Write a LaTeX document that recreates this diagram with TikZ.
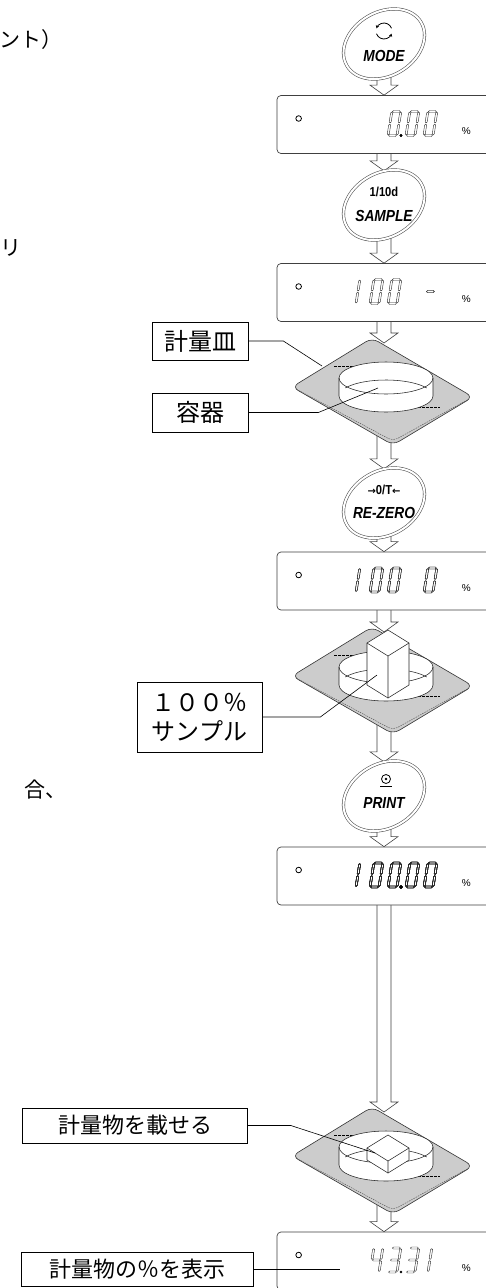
\documentclass[tikz,border=0pt]{standalone}
\usepackage{fontspec}
\setmainfont{Liberation Sans}
\newfontfamily\jpfont{Noto Sans CJK JP}
\newfontfamily\keyfont[FakeStretch=0.86]{Liberation Sans}
\newfontfamily\arrowfont{DejaVu Sans}
\usetikzlibrary{calc,arrows.meta}
\definecolor{plategray}{gray}{0.8}
\definecolor{linegray}{gray}{0.25}
\pgfdeclarelayer{back}
\pgfsetlayers{back,main}

\newcommand\hseg[3]{\draw[seg] (#1,#3) -- (#1+1,#3-1) -- (#2-1,#3-1) -- (#2,#3) -- (#2-1,#3+1) -- (#1+1,#3+1) -- cycle;}
\newcommand\vseg[3]{\draw[seg] (#1,#2) -- (#1+1,#2+1) -- (#1+1,#3-1) -- (#1,#3) -- (#1-1,#3-1) -- (#1-1,#2+1) -- cycle;}
\newcommand\dsega{\hseg{0.6}{8.4}{-24}}
\newcommand\dsegb{\vseg{9}{-23.4}{-12.6}}
\newcommand\dsegc{\vseg{9}{-11.4}{-0.6}}
\newcommand\dsegd{\hseg{0.6}{8.4}{0}}
\newcommand\dsege{\vseg{0}{-11.4}{-0.6}}
\newcommand\dsegf{\vseg{0}{-23.4}{-12.6}}
\newcommand\dsegg{\hseg{0.6}{8.4}{-12}}
\newcommand\dsegh{\vseg{4}{-23.4}{-12.6}}
\newcommand\dsegi{\vseg{4}{-11.4}{-0.6}}
\newcommand\lcddigit[3]{\begin{scope}[shift={(#1,#2)},xslant=0.16]\foreach \s in {#3}{\csname dseg\s\endcsname}\end{scope}}
\newcommand\flowarrow[2]{\path[flow] ($(#1.center)+(-7,0)$) -- ($(#1.center |- #2)+(-7,-10)$) -- ($(#1.center |- #2)+(-14,-10)$) -- (#1.center |- #2) -- ($(#1.center |- #2)+(14,-10)$) -- ($(#1.center |- #2)+(7,-10)$) -- ($(#1.center)+(7,0)$);}
\newcommand\weighpan[2]{\begin{scope}[shift={(#1,#2)}]
\filldraw[plate] (0,0) -- (101,59) -- (21,107) -- (-80,49) -- cycle;
\draw[platerim] (-76,51) -- (21,103) -- (97,61);
\draw[hidden] (-38,28) -- (14,28) (34,69) -- (68,69);
\filldraw[dish] (-33,40) -- (-33,58) arc[start angle=180, end angle=0, x radius=47, y radius=16] -- (61,40) arc[start angle=0, end angle=-180, x radius=47, y radius=16] -- cycle;
\draw[dishline] (-33,40) arc[start angle=180, end angle=0, x radius=47, y radius=16];
\draw[dishline] (-26.7,50) arc[start angle=210, end angle=330, x radius=47, y radius=16];
\end{scope}}
\newcommand\cuboid[3]{\begin{scope}[shift={(#1,#2)}]
\filldraw[dish] (0,0) -- (21,13) -- (21,13+#3) -- (0,26+#3) -- (-21,13+#3) -- (-21,13) -- cycle;
\draw[dishline] (-21,13) -- (0,26) -- (21,13) (0,26) -- (0,26+#3);
\end{scope}}

\begin{document}
\begin{tikzpicture}[x=1pt, y=-1pt,
 lcd/.style={draw=linegray, line width=0.7pt, fill=white, rounded corners=4pt, minimum width=214pt, minimum height=58pt, inner sep=0},
 btn/.style={minimum width=80pt, minimum height=68pt, inner sep=0},
 ring/.style={fill=white, draw=black!70, line width=0.55pt, double=white, double distance=2pt},
 keylab/.style={inner sep=0, font=\keyfont\bfseries\itshape\fontsize{16}{16}\selectfont},
 keytop/.style={inner sep=0, font=\keyfont\bfseries\fontsize{13}{13}\selectfont},
 sym/.style={line width=0.8pt},
 seg/.style={draw=black!85, line width=0.4pt, line join=miter},
 pct/.style={inner sep=0, font=\fontsize{10}{10}\selectfont},
 flow/.style={fill=white, draw=linegray, line width=0.6pt},
 plate/.style={fill=plategray, draw=black!80, line width=0.6pt, rounded corners=7pt},
 platerim/.style={draw=black!70, line width=0.4pt, dash pattern=on 1.5pt off 1pt, rounded corners=5pt},
 hidden/.style={draw=black, line width=0.5pt, dash pattern=on 2.5pt off 1.5pt},
 dish/.style={fill=white, draw=black!85, line width=0.55pt},
 dishline/.style={draw=black!85, line width=0.55pt},
 tag/.style={draw=black, line width=0.7pt, fill=white, inner sep=0, font=\jpfont\fontsize{24}{29}\selectfont},
 leader/.style={draw=black, line width=0.6pt},
 frag/.style={inner sep=0, font=\jpfont\fontsize{21}{21}\selectfont}]
\useasboundingbox (0,0) rectangle (485,1288);

\node[lcd] (d1) at (384,124.5) {};
\node[lcd] (d2) at (384,292.5) {};
\node[lcd] (d3) at (384,581) {};
\node[lcd] (d4) at (384,876) {};
\node[lcd] (d5) at (384,1261) {};
\foreach \d in {d1,d2,d3,d4,d5}{
 \draw[line width=0.8pt] ($(\d.west)+(22,-6)$) circle[radius=2.8];
 \node[pct] at ($(\d.east)+(-25,7)$) {\%};}

\foreach \p in {388,406,424} \lcddigit{\p}{135.5}{a,b,c,d,e,f}
\fill (401,135.5) circle[radius=1.3];
\lcddigit{352}{303.5}{h,i}
\foreach \p in {370,388} \lcddigit{\p}{303.5}{a,b,c,d,e,f}
\lcddigit{424}{303.5}{g}
\lcddigit{352}{592}{h,i}
\foreach \p in {370,388,424} \lcddigit{\p}{592}{a,b,c,d,e,f}
\lcddigit{352}{887}{h,i}
\foreach \p in {370,388,406,424} \lcddigit{\p}{887}{a,b,c,d,e,f}
\fill (401,887) circle[radius=1.3];
\lcddigit{370}{1272}{b,c,f,g}
\lcddigit{388}{1272}{a,b,c,d,g}
\lcddigit{406}{1272}{a,b,c,d,g}
\lcddigit{424}{1272}{h,i}
\fill (401,1272) circle[radius=1.3];

\node[btn] (mode) at (384,44) {};
\node[btn] (sample) at (384,205) {};
\node[btn] (rezero) at (384,503) {};
\node[btn] (print) at (384,796) {};
\foreach \b in {mode,sample,rezero,print}
 \filldraw[ring] (\b.center) circle[x radius=43, y radius=32, rotate=30];
\coordinate (modesym) at ($(mode)+(0,-13)$);
\draw[sym,-{Stealth[length=3pt,width=3.5pt]}] ($(modesym)+(340:8)$) arc[start angle=340, end angle=200, radius=8];
\draw[sym,-{Stealth[length=3pt,width=3.5pt]}] ($(modesym)+(160:8)$) arc[start angle=160, end angle=20, radius=8];
\node[keylab] at ($(mode)+(0,12)$) {MODE};
\node[keytop] at ($(sample)+(0,-13)$) {1/10d};
\node[keylab] at ($(sample)+(0,11)$) {SAMPLE};
\node[keytop] at ($(rezero)+(0,-13)$) {{\arrowfont\bfseries\fontsize{10}{10}\selectfont →}0/T{\arrowfont\bfseries\fontsize{10}{10}\selectfont ←}};
\node[keylab] at ($(rezero)+(0,10)$) {RE-ZERO};
\coordinate (printsym) at ($(print)+(2,-17)$);
\draw[sym] (printsym) circle[radius=4.5];
\fill (printsym) circle[radius=1.3];
\draw[line width=1pt] ($(printsym)+(-6,7)$) -- ($(printsym)+(6,7)$);
\node[keylab] at ($(print)+(0,7)$) {PRINT};

\weighpan{372}{338}
\weighpan{372}{627}
\cuboid{388}{630}{42}
\weighpan{372}{1107}
\cuboid{388}{1135}{12}
\coordinate (pan1) at (384,388);
\coordinate (pan1top) at (384,343);
\coordinate (pan2) at (384,677);
\coordinate (pan2top) at (384,632);
\coordinate (pan3) at (384,1157);
\coordinate (pan3top) at (384,1112);

\begin{pgfonlayer}{back}
\fill[white] (0,0) rectangle (485,1288);
\foreach \a/\b in {mode/d1.north, d1/sample.north, sample/d2.north, d2/pan1top, pan1/rezero.north, rezero/d3.north, d3/pan2top, pan2/print.north, print/d4.north, d4/pan3top, pan3/d5.north}
 \flowarrow{\a}{\b};
\end{pgfonlayer}

\node[tag, minimum width=96pt, minimum height=38pt] (pan) at (200,341) {計量皿};
\node[tag, minimum width=96pt, minimum height=39pt] (vessel) at (200,412.5) {容器};
\node[tag, minimum width=125pt, minimum height=70pt, align=center] (sample100) at (199.5,717) {１００％\\サンプル};
\node[tag, minimum width=225pt, minimum height=35pt, font=\jpfont\fontsize{22}{22}\selectfont] (load) at (135,1125.5) {計量物を載せる};
\node[tag, minimum width=232pt, minimum height=34pt, font=\jpfont\fontsize{22}{22}\selectfont] (show) at (137,1269) {計量物の％を表示};
\coordinate (panpt) at (322,366);
\coordinate (vesselpt) at (378,388);
\coordinate (samplept) at (377,675);
\coordinate (loadpt) at (375,1153);
\coordinate (showpt) at (340,1269);
\draw[leader] (pan.east) -- ++(35,0) -- (panpt);
\draw[leader] (vessel.east) -- ++(70,0) -- (vesselpt);
\draw[leader] (sample100.east) -- ++(58,0) -- (samplept);
\draw[leader] (load.east) -- ++(43,0) -- (loadpt);
\draw[leader] (show.east) -- (showpt);

\node[frag, anchor=west] (f1) at (-1,40) {ント）};
\node[frag] (f2) at (11,248) {リ};
\node[frag] (f3) at (45,790) {合、};
\end{tikzpicture}
\end{document}
